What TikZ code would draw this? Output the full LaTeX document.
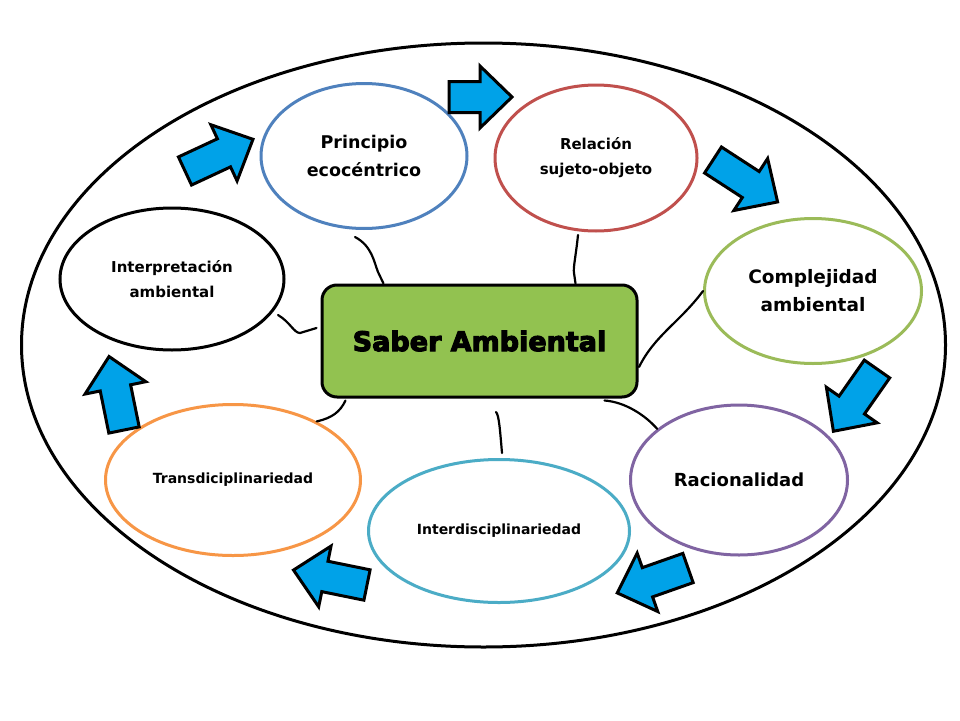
\documentclass[tikz,border=0pt]{standalone}
\usepackage{fontspec}
\setmainfont{DejaVu Sans}
\newfontfamily\heavyfont[BoldFeatures={FakeBold=4}]{DejaVu Sans}
\usetikzlibrary{shapes.geometric,calc}
\definecolor{cblue}{RGB}{79,129,189}
\definecolor{cred}{RGB}{192,80,77}
\definecolor{cgreen}{RGB}{155,187,89}
\definecolor{cpurple}{RGB}{128,100,162}
\definecolor{cteal}{RGB}{75,172,198}
\definecolor{corange}{RGB}{247,150,70}
\definecolor{boxfill}{RGB}{146,194,80}
\definecolor{arrowfill}{RGB}{0,162,232}
\newcommand\txt[2]{\fontsize{#1}{#2}\selectfont\bfseries}
\newcommand\bluearrow[4]{%
  \begin{scope}[shift={(#1,#2)}, rotate=#3]
    \draw[arrowsty] (0,-15.5) -- ({#4-32},-15.5) -- ({#4-32},-31) -- (#4,0)
      -- ({#4-32},31) -- ({#4-32},15.5) -- (0,15.5) -- cycle;
  \end{scope}}
\begin{document}
\begin{tikzpicture}[x=1pt,y=-1pt,
  bubble/.style={ellipse, draw, line width=3pt, fill=white, inner sep=0pt, align=center},
  arrowsty/.style={draw=black, fill=arrowfill, line width=3pt, line join=miter},
  conn/.style={draw=black, line width=2.2pt, line cap=round}]
\useasboundingbox (0,0) rectangle (960,720);
\fill[white] (0,0) rectangle (960,720);

\node[ellipse, draw, line width=3pt, minimum width=924pt, minimum height=604pt, inner sep=0pt] (outer) at (483.5,345) {};

\node[bubble, draw=cblue, minimum width=206pt, minimum height=145pt, font=\txt{17.5}{28}] (pe) at (364,156)
  {Principio\\ecocéntrico};
\node[bubble, draw=cred, minimum width=202pt, minimum height=146pt, font=\txt{15}{25}] (re) at (596,158)
  {Relación\\sujeto-objeto};
\node[bubble, draw=cgreen, minimum width=217pt, minimum height=145pt, font=\txt{18.5}{28}] (co) at (813,291)
  {Complejidad\\ambiental};
\node[bubble, draw=cpurple, minimum width=217pt, minimum height=150pt, font=\txt{18}{28}] (ra) at (739,480)
  {Racionalidad};
\node[bubble, draw=cteal, minimum width=261pt, minimum height=143pt, font=\txt{14}{20}] (in) at (499,531)
  {Interdisciplinariedad};
\node[bubble, draw=corange, minimum width=255pt, minimum height=151pt, font=\txt{14}{20}] (tr) at (233,480)
  {Transdiciplinariedad};
\node[bubble, draw=black, minimum width=224pt, minimum height=142pt, font=\txt{15}{25}] (ia) at (172,279)
  {Interpretación\\ambiental};

\node[draw=black, fill=boxfill, line width=3pt, rounded corners=15pt,
  minimum width=315pt, minimum height=112pt, font=\heavyfont\fontsize{27}{30}\selectfont\bfseries] (box) at (479.5,341) {Saber Ambiental};

% connectors
\coordinate (pstart) at (355,237);
\coordinate (rstart) at (578,235);
\coordinate (istart) at (496,412);
\coordinate (iend) at (502,453);
\coordinate (iastart) at (278,315);
\draw[conn] (pstart) .. controls (372,246) and (374,262) .. (378,272) .. controls (380,278) .. ($(box.north west)+(63,0)$);
\draw[conn] (rstart) .. controls (576,255) and (573,268) .. (574,273) .. controls (575,278) .. ($(box.north west)+(255,0)$);
\draw[conn] (co.west) .. controls (680,322) and (655,335) .. ($(box.east)+(0.5,26)$);
\draw[conn] ($(box.south east)+(-34,2)$) .. controls (625,402) and (645,415) .. (ra.148);
\draw[conn] (istart) .. controls (499,415) and (500,430) .. (iend);
\draw[conn] ($(box.south west)+(25,2)$) .. controls (340,412) and (332,418) .. (tr.35);
\draw[conn] (iastart) .. controls (290,322) and (294,333) .. (300,333) -- ($(box.west)+(-4,-13)$);

% block arrows
\bluearrow{185}{171}{25}{75}
\bluearrow{449}{97}{0}{63}
\bluearrow{713}{160}{-33}{77}
\bluearrow{877}{369}{-125}{76}
\bluearrow{688}{568}{-160.6}{75}
\bluearrow{367}{585}{168.5}{75}
\bluearrow{124}{430}{101.5}{75}
\end{tikzpicture}
\end{document}
